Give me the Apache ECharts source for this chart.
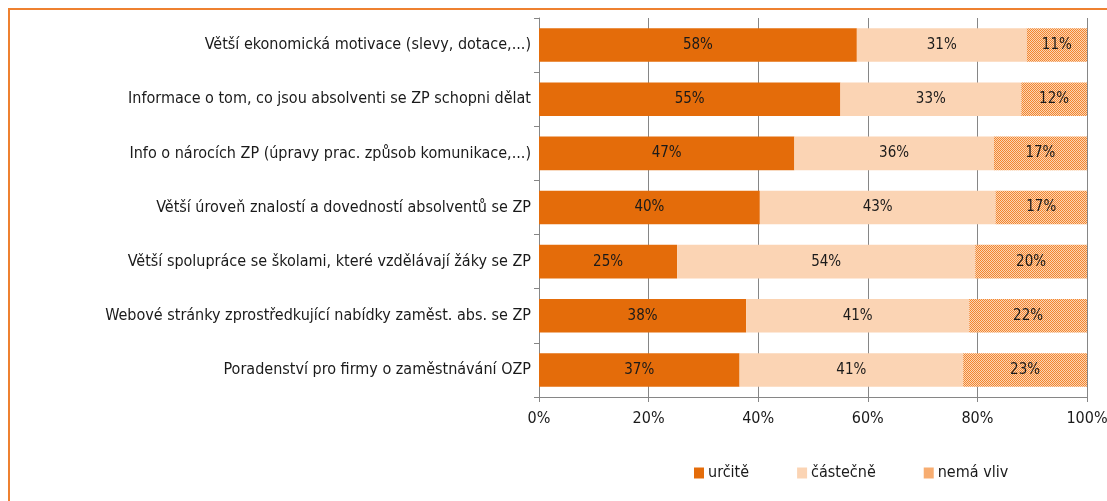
<!DOCTYPE html>
<html><head><meta charset="utf-8">
<script src="https://cdn.jsdelivr.net/npm/echarts@6/dist/echarts.min.js"></script>
<style>html,body{margin:0;padding:0;background:#fff}#c{width:1107px;height:501px}</style>
</head><body><div id="c"></div>
<script>
const categories = [
  'Větší ekonomická motivace (slevy, dotace,...)',
  'Informace o tom, co jsou absolventi se ZP schopni dělat',
  'Info o nárocích ZP (úpravy prac. způsob komunikace,...)',
  'Větší úroveň znalostí a dovedností absolventů se ZP',
  'Větší spolupráce se školami, které vzdělávají žáky se ZP',
  'Webové stránky zprostředkující nabídky zaměst. abs. se ZP',
  'Poradenství pro firmy o zaměstnávání OZP'
];
const seriesNames = ['určitě', 'částečně', 'nemá vliv'];
const urcite   = [58, 55, 46.6, 40.3, 25.2, 37.8, 36.6];
const castecne = [31, 33, 36.4, 43.0, 54.4, 40.7, 40.8];
const nemaVliv = [11, 12, 17.0, 16.7, 20.4, 21.5, 22.6];
const xTicks = [0, 20, 40, 60, 80, 100];

const FONT = '"Liberation Sans Narrow","DejaVu Sans Condensed","Liberation Sans",sans-serif';

function makePattern() {
  const cv = document.createElement('canvas');
  cv.width = 2; cv.height = 2;
  const g = cv.getContext('2d');
  g.fillStyle = '#FBD4B4'; g.fillRect(0,0,2,2);
  g.fillStyle = '#F3862F'; g.fillRect(0,0,1,1); g.fillRect(1,1,1,1);
  return cv;
}
const pat = {image: makePattern(), repeat: 'repeat'};

const chart = echarts.init(document.getElementById('c'), null, {renderer: 'canvas'});
const lbl = {show: true, position: 'inside', color: '#1a1a1a', fontFamily: FONT, fontSize: 15,
  formatter: p => Math.round(p.value) + '%'};
chart.setOption({
  animation: false,
  backgroundColor: '#fff',
  textStyle: {fontFamily: FONT},
  graphic: [{type: 'rect', shape: {x: 9, y: 9, width: 1200, height: 600},
    style: {fill: 'none', stroke: '#EE8130', lineWidth: 2}, silent: true}],
  grid: {left: 539, right: 20, top: 18, bottom: 104, containLabel: false, outerBoundsMode: 'none'},
  legend: {
    data: seriesNames.map((n, i) => i === 2 ? {name: n, itemStyle: {color: pat}} : n),
    left: 689, top: 460, icon: 'rect', itemWidth: 10, itemHeight: 11, itemGap: 48,
    textStyle: {fontFamily: FONT, fontSize: 16, color: '#1a1a1a', padding: [0, 0, 0, -1]}
  },
  xAxis: {
    type: 'value', min: 0, max: 100, interval: 20,
    axisLine: {show: true, lineStyle: {color: '#868686'}},
    axisTick: {show: true, length: 5, lineStyle: {color: '#868686'}},
    splitLine: {show: true, lineStyle: {color: '#868686'}},
    axisLabel: {formatter: v => xTicks.includes(v) ? v + '%' : '', color: '#1a1a1a', fontSize: 16, fontFamily: FONT, margin: 14}
  },
  yAxis: {
    type: 'category', data: categories, inverse: true,
    axisLine: {show: true, lineStyle: {color: '#868686'}},
    axisTick: {show: true, length: 5, lineStyle: {color: '#868686'}},
    axisLabel: {color: '#1a1a1a', fontSize: 16, fontFamily: FONT, margin: 8}
  },
  series: [
    {name: seriesNames[0], type: 'bar', stack: 't', data: urcite, barWidth: '62%', itemStyle: {color: '#E46C0A'}, label: lbl},
    {name: seriesNames[1], type: 'bar', stack: 't', data: castecne, barWidth: '62%', itemStyle: {color: '#FBD4B4'}, label: lbl},
    {name: seriesNames[2], type: 'bar', stack: 't', data: nemaVliv, barWidth: '62%', itemStyle: {color: pat}, label: lbl}
  ]
});
</script></body></html>
